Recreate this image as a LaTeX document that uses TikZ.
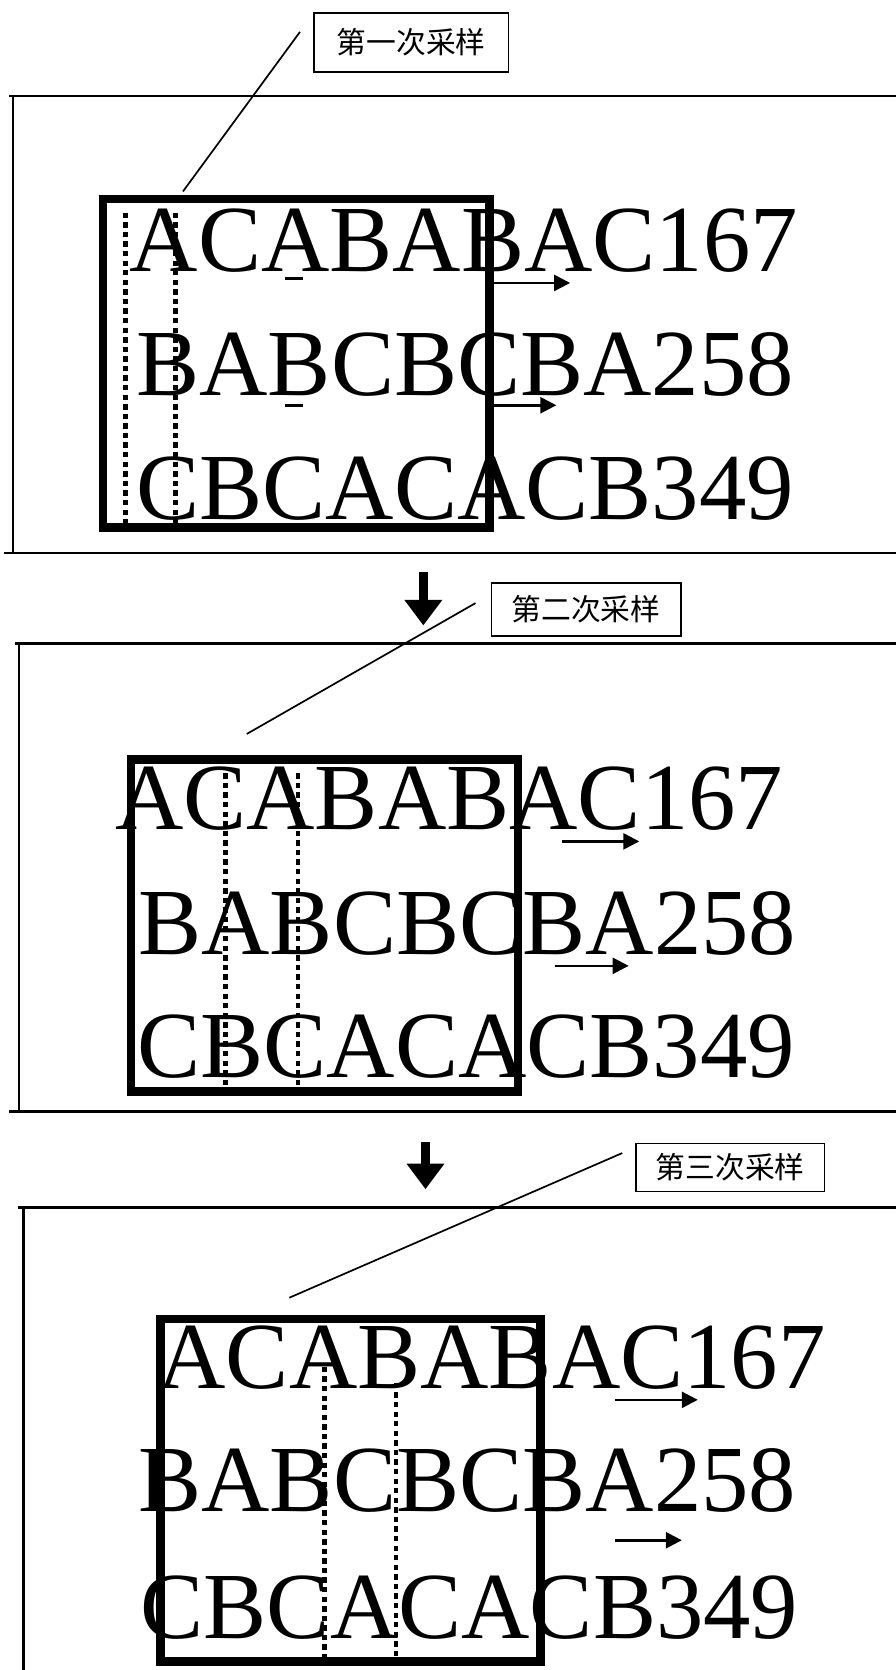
\documentclass[tikz,border=0pt]{standalone}
\usepackage{fontspec}
\setmainfont{Liberation Serif}
\newfontfamily\cjk{Noto Sans CJK SC}
\usetikzlibrary{arrows.meta}
\tikzset{
  panelline/.style={line width=2.3pt, line cap=rect},
  samplebox/.style={line width=8pt, line cap=rect},
  dotcol/.style={line width=4pt, dash pattern=on 5pt off 4pt},
  rowtext/.style={anchor=base west, inner sep=0pt, font=\fontsize{89}{89}\selectfont},
  tag/.style={draw, line width=1.6pt, inner sep=0pt, font=\cjk\fontsize{28}{28}\selectfont},
  leader/.style={line width=1.6pt},
  shiftarrow/.style={line width=2.4pt, -{Triangle[length=15pt,width=15pt]}},
  downarrow/.style={line width=8pt, -{Triangle[length=24pt,width=34pt]}},
  tick/.style={line width=2.4pt}
}
\begin{document}
\begin{tikzpicture}[x=1pt,y=-1pt]
\useasboundingbox (0,0) rectangle (842,1570);

% ---------- Panel 1 ----------
\coordinate (p1tl) at (10,90);
\coordinate (p1tr) at (842,90);
\coordinate (p1lt) at (12,92);
\coordinate (p1lb) at (12,520);
\coordinate (p1bl) at (5,520);
\coordinate (p1br) at (842,520);
\draw[panelline] (p1tl) -- (p1tr);
\draw[panelline] (p1lt) -- (p1lb);
\draw[panelline] (p1bl) -- (p1br);

\node[tag, minimum width=183pt, minimum height=56pt] (lab1) at (386.5,40) {第一次采样};
\coordinate (l1a) at (282,30);
\coordinate (l1b) at (172,180);
\draw[leader] (l1a) -- (l1b);

\node[rowtext] (r11) at (122,255) {ACABABAC167};
\node[rowtext] (r12) at (128,372) {BABCBCBA258};
\node[rowtext] (r13) at (128,488) {CBCACACB349};

\draw[samplebox] (97,187) rectangle (460,496);
\draw[dotcol] (118,200) -- (118,500);
\draw[dotcol] (165,200) -- (165,496);

\draw[tick] (268,262) -- (285,262);
\draw[tick] (268,381) -- (285,381);

\coordinate (a11s) at (463,266);
\coordinate (a11e) at (536,266);
\coordinate (a12s) at (463,381);
\coordinate (a12e) at (523,381);
\draw[shiftarrow] (a11s) -- (a11e);
\draw[shiftarrow] (a12s) -- (a12e);

% ---------- Arrow 1 ----------
\coordinate (d1s) at (398,538);
\coordinate (d1e) at (398,588);
\draw[downarrow] (d1s) -- (d1e);

% ---------- Panel 2 ----------
\draw[panelline] (15,605) -- (842,605);
\draw[panelline] (18,607) -- (18,1045);
\draw[panelline] (10,1045) -- (842,1045);

\node[tag, minimum width=178pt, minimum height=50pt] (lab2) at (551,573) {第二次采样};
\coordinate (l2a) at (447,567);
\coordinate (l2b) at (232,690);
\draw[leader] (l2a) -- (l2b);

\node[rowtext] (r21) at (108,780) {ACABABAC167};
\node[rowtext] (r22) at (130,897) {BABCBCBA258};
\node[rowtext] (r23) at (129,1013) {CBCACACB349};

\draw[samplebox] (123,714) rectangle (487,1026);
\draw[dotcol] (212,727) -- (212,1030);
\draw[dotcol] (280,727) -- (280,1026);

\coordinate (a21s) at (528,791);
\coordinate (a21e) at (601,791);
\coordinate (a22s) at (522,908);
\coordinate (a22e) at (591,908);
\draw[shiftarrow] (a21s) -- (a21e);
\draw[shiftarrow] (a22s) -- (a22e);

% ---------- Arrow 2 ----------
\coordinate (d2s) at (400,1074);
\coordinate (d2e) at (400,1118);
\draw[downarrow] (d2s) -- (d2e);

% ---------- Panel 3 ----------
\draw[panelline] (18,1135) -- (842,1135);
\draw[panelline] (22,1137) -- (22,1570);

\node[tag, minimum width=177pt, minimum height=45pt] (lab3) at (686.5,1097.5) {第三次采样};
\coordinate (l3a) at (585,1084);
\coordinate (l3b) at (272,1220);
\draw[leader] (l3a) -- (l3b);

\node[rowtext] (r31) at (148,1305) {ACABABAC167};
\node[rowtext] (r32) at (130,1421) {BABCBCBA258};
\node[rowtext] (r33) at (132,1540) {CBCACACB349};

\draw[samplebox] (151,1240) rectangle (508,1562);
\draw[dotcol] (305,1285) -- (305,1562);
\draw[dotcol] (372,1300) -- (372,1562);

\coordinate (a31s) at (578,1316);
\coordinate (a31e) at (656,1316);
\coordinate (a32s) at (578,1448);
\coordinate (a32e) at (641,1448);
\draw[shiftarrow] (a31s) -- (a31e);
\draw[shiftarrow] (a32s) -- (a32e);
\end{tikzpicture}
\end{document}
